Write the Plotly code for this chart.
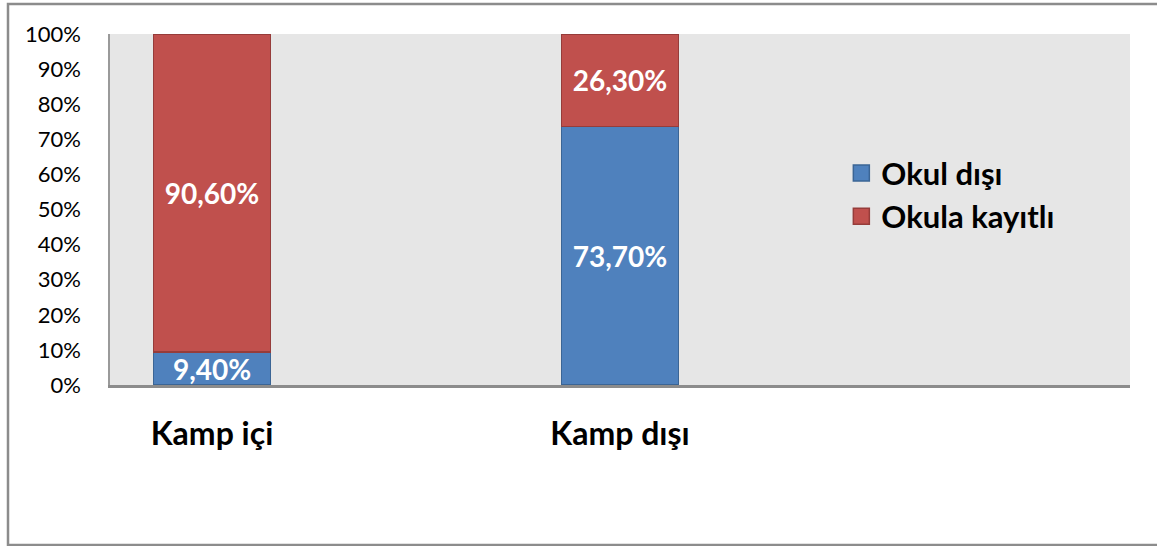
import plotly.graph_objects as go

kategoriler = ['Kamp içi', 'Kamp dışı']
okul_disi = [9.4, 73.7]
okula_kayitli = [90.6, 26.3]
y_ticks = [0, 10, 20, 30, 40, 50, 60, 70, 80, 90, 100]

MAVI, MAVI_KENAR = '#4F81BD', '#3B6595'
KIRMIZI, KIRMIZI_KENAR = '#C0504D', '#963C3A'

def etiket(v):
    return f'{v:.2f}%'.replace('.', ',')

etiket_font = dict(family='Lato', size=28, color='white', weight='bold')

fig = go.Figure()
# alt seri
fig.add_trace(go.Bar(x=kategoriler, y=okul_disi, name='Okul dışı',
                     marker=dict(color=MAVI, line=dict(color=MAVI_KENAR, width=1.5)),
                     width=0.287, showlegend=False,
                     text=[etiket(v) for v in okul_disi],
                     textposition='inside', insidetextanchor='middle',
                     constraintext='none', textfont=etiket_font))
# ust seri
fig.add_trace(go.Bar(x=kategoriler, y=okula_kayitli, name='Okula kayıtlı',
                     marker=dict(color=KIRMIZI, line=dict(color=KIRMIZI_KENAR, width=1.5)),
                     width=0.287, showlegend=False,
                     text=[etiket(v) for v in okula_kayitli],
                     textposition='inside', insidetextanchor='middle',
                     constraintext='none', textfont=etiket_font))

# lejant icin buyuk kare isaretler
for ad, renk, kenar in [('Okul dışı', MAVI, MAVI_KENAR), ('Okula kayıtlı', KIRMIZI, KIRMIZI_KENAR)]:
    fig.add_trace(go.Scatter(x=[None], y=[None], mode='markers', name=ad,
                             marker=dict(symbol='square', size=20, color=renk,
                                         line=dict(color=kenar, width=1.5))))

fig.update_layout(barmode='stack',
                  width=1157, height=546,
                  margin=dict(l=110, r=27, t=34, b=161),
                  paper_bgcolor='white', plot_bgcolor='#E6E6E6',
                  font=dict(family='Lato', color='black'),
                  showlegend=True,
                  legend=dict(x=0.717, y=0.68, xanchor='left', yanchor='top',
                              bgcolor='rgba(0,0,0,0)', traceorder='normal',
                              font=dict(size=31, weight='bold', color='black'),
                              itemwidth=30, tracegroupgap=0))

fig.update_xaxes(type='category', range=[-0.25, 2.25],
                 showline=True, linecolor='#8C8C8C', linewidth=3,
                 ticks='', showgrid=False,
                 tickfont=dict(size=32, weight='bold', color='black'),
                 ticklabelstandoff=19)
fig.update_yaxes(range=[0, 100], tickmode='array', tickvals=y_ticks,
                 ticktext=[f'{v}%' for v in y_ticks],
                 showline=True, linecolor='#9A9A9A', linewidth=1.5,
                 showgrid=False, zeroline=False, ticks='',
                 tickfont=dict(size=22, color='black'),
                 ticklabelstandoff=23)

# dis cerceve
fig.add_shape(type='rect', xref='paper', yref='paper',
              x0=(8 - 110) / 1020, x1=(1175 - 110) / 1020,
              y0=(385 - 545) / 351, y1=(385 - 4) / 351,
              line=dict(color='#8C8C8C', width=2.5), layer='below')

fig.write_html('out.html', config={'displayModeBar': False},
               post_script="document.body.style.margin='0';document.body.style.overflow='hidden';")
